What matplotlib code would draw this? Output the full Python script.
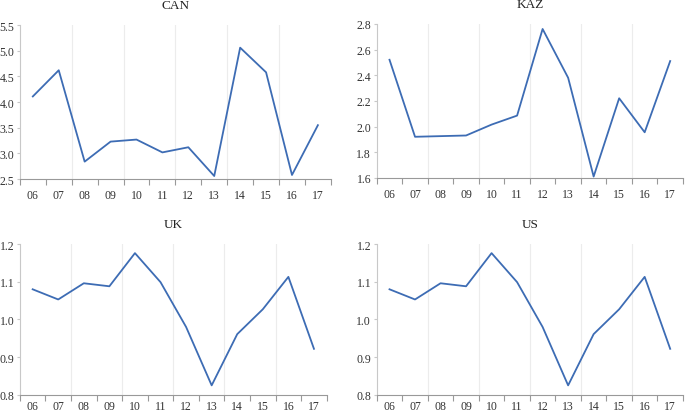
import numpy as np
import matplotlib
matplotlib.use("Agg")
import matplotlib.pyplot as plt

years = ["06", "07", "08", "09", "10", "11", "12", "13", "14", "15", "16", "17"]

can = [4.11, 4.62, 2.84, 3.23, 3.27, 3.02, 3.12, 2.56, 5.06, 4.58, 2.58, 3.55]
kaz = [2.52, 1.92, 1.925, 1.93, 2.015, 2.085, 2.76, 2.38, 1.61, 2.22, 1.955, 2.51]
uk = [1.080, 1.053, 1.096, 1.088, 1.176, 1.099, 0.980, 0.825, 0.961, 1.027, 1.113, 0.922]
us = [1.080, 1.053, 1.096, 1.088, 1.176, 1.099, 0.980, 0.825, 0.961, 1.027, 1.113, 0.922]

panels = [
    ("CAN", can, (2.5, 5.5), np.arange(2.5, 5.51, 0.5)),
    ("KAZ", kaz, (1.6, 2.8), np.arange(1.6, 2.81, 0.2)),
    ("UK", uk, (0.8, 1.2), np.arange(0.8, 1.21, 0.1)),
    ("US", us, (0.8, 1.2), np.arange(0.8, 1.21, 0.1)),
]

# axes boxes in figure fractions (left, bottom, width, height), plus label pad
boxes = [
    ((0.029, 0.565, 0.454, 0.372), 7),
    ((0.550, 0.568, 0.447, 0.372), 7),
    ((0.029, 0.044, 0.448, 0.364), 4),
    ((0.550, 0.044, 0.447, 0.364), 4),
]

plt.rcParams["font.family"] = ["Liberation Serif", "DejaVu Serif"]

fig = plt.figure(figsize=(6.85, 4.14), dpi=100)
line_color = "#3d6cb4"
axis_color = "#c8c8c8"

for (name, vals, ylim, yticks), (box, xpad) in zip(panels, boxes):
    ax = fig.add_axes(box)
    x = np.arange(len(years))
    ax.plot(x, vals, color=line_color, linewidth=1.3, zorder=3)
    ax.set_xlim(-0.5, len(years) - 0.5)
    ax.set_ylim(*ylim)

    # vertical split lines every other category boundary
    for b in np.arange(1.5, len(years) - 1, 2):
        ax.axvline(b, color="#ececec", linewidth=0.8, zorder=1)

    ax.set_xticks(x)
    ax.set_xticklabels(years, fontsize=8.5, color="#333333")
    ax.set_xticks(np.arange(-0.5, len(years), 1), minor=True)
    ax.tick_params(axis="x", which="major", length=0, pad=xpad)
    ax.tick_params(axis="x", which="minor", length=4, color="#999999", width=0.8)

    ax.set_yticks(yticks)
    ax.set_yticklabels(["%.1f" % v for v in yticks], fontsize=8.5, color="#333333")
    ax.tick_params(axis="y", length=2.5, color=axis_color, width=0.8, pad=1.5)

    for side in ["top", "right"]:
        ax.spines[side].set_visible(False)
    ax.spines["left"].set_color(axis_color)
    ax.spines["left"].set_linewidth(0.8)
    ax.spines["bottom"].set_color("#999999")
    ax.spines["bottom"].set_linewidth(0.8)

    ax.set_title(name, fontsize=9.5, color="#222222", pad=12)

fig.savefig("out.png", dpi=100)
